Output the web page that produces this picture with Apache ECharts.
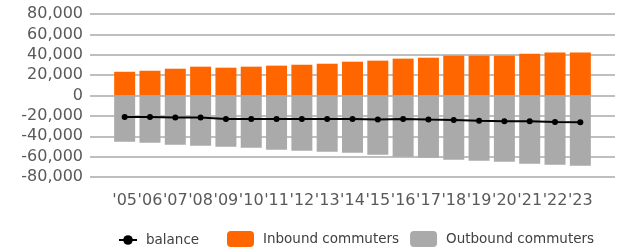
<!DOCTYPE html>
<html>
<head>
<meta charset="utf-8">
<script src="https://cdn.jsdelivr.net/npm/echarts@6/dist/echarts.min.js"></script>
<style>
  html, body { margin: 0; padding: 0; background: #fff; }
  #chart { width: 617px; height: 248px; }
</style>
</head>
<body>
<div id="chart"></div>
<script>
const years = ["'05", "'06", "'07", "'08", "'09", "'10", "'11", "'12", "'13", "'14",
  "'15", "'16", "'17", "'18", "'19", "'20", "'21", "'22", "'23"];
const inbound = [23300, 24300, 26300, 28300, 27300, 28300, 29300, 30200, 31200, 33200,
  34200, 36200, 37100, 39100, 39100, 39100, 41100, 42100, 42100];
const outbound = [-45300, -46300, -48300, -49300, -50200, -51200, -53200, -54200, -55200, -56200,
  -58100, -60100, -61100, -63100, -64000, -65000, -67000, -68000, -69000];
const balance = [-21000, -21000, -21600, -21600, -23000, -23000, -23000, -23000, -23000, -23000,
  -23600, -23000, -23600, -24000, -24900, -25200, -25200, -25900, -26200];

const chart = echarts.init(document.getElementById('chart'));
const font = 'DejaVu Sans';
const gridTop = 14, gridHeight = 163;

chart.setOption({
  animation: false,
  textStyle: { fontFamily: font },
  grid: [
    { left: 90, right: 2, top: gridTop, height: gridHeight },
    { left: 112, right: 24, top: gridTop, height: gridHeight }
  ],
  legend: [
    {
      data: ['balance'],
      left: 118, top: 233, padding: 0,
      itemWidth: 18, itemHeight: 12,
      textStyle: { fontFamily: font, fontSize: 13.5, color: '#404040', padding: [0, 0, 0, 4] }
    },
    {
      data: ['Inbound commuters', 'Outbound commuters'],
      left: 227, top: 231, padding: 0,
      itemWidth: 27, itemHeight: 16, itemGap: 11,
      textStyle: { fontFamily: font, fontSize: 13.5, color: '#404040', padding: [0, 0, 0, 4] }
    }
  ],
  xAxis: [
    {
      gridIndex: 0, type: 'category', data: years,
      axisLine: { show: false }, axisTick: { show: false }, axisLabel: { show: false },
      splitLine: { show: false }
    },
    {
      gridIndex: 1, type: 'category', data: years,
      axisLine: { show: false }, axisTick: { show: false },
      axisLabel: { interval: 0, fontFamily: font, fontSize: 16, color: '#595959', margin: 16 }
    }
  ],
  yAxis: [
    {
      gridIndex: 0, type: 'value', min: -80000, max: 80000, interval: 20000,
      axisLine: { show: false }, axisTick: { show: false },
      axisLabel: {
        fontFamily: font, fontSize: 16, color: '#595959', margin: 7,
        formatter: v => v.toLocaleString('en-US')
      },
      splitLine: { show: true, lineStyle: { color: '#bfbfbf', width: 2 } }
    },
    {
      gridIndex: 1, type: 'value', min: -80000, max: 80000, interval: 20000,
      axisLine: { show: false }, axisTick: { show: false }, axisLabel: { show: false },
      splitLine: { show: false }
    }
  ],
  series: [
    {
      name: 'Inbound commuters', type: 'bar', stack: 'c',
      xAxisIndex: 1, yAxisIndex: 1, z: 2,
      barWidth: 21, itemStyle: { color: '#ff6600' },
      data: inbound
    },
    {
      name: 'Outbound commuters', type: 'bar', stack: 'c',
      xAxisIndex: 1, yAxisIndex: 1, z: 2,
      barWidth: 21, itemStyle: { color: '#aaaaaa' },
      data: outbound
    },
    {
      name: 'balance', type: 'line', z: 5,
      xAxisIndex: 1, yAxisIndex: 1,
      symbol: 'circle', symbolSize: 6,
      lineStyle: { color: '#000', width: 2 },
      itemStyle: { color: '#000' },
      data: balance
    }
  ]
});
</script>
</body>
</html>
